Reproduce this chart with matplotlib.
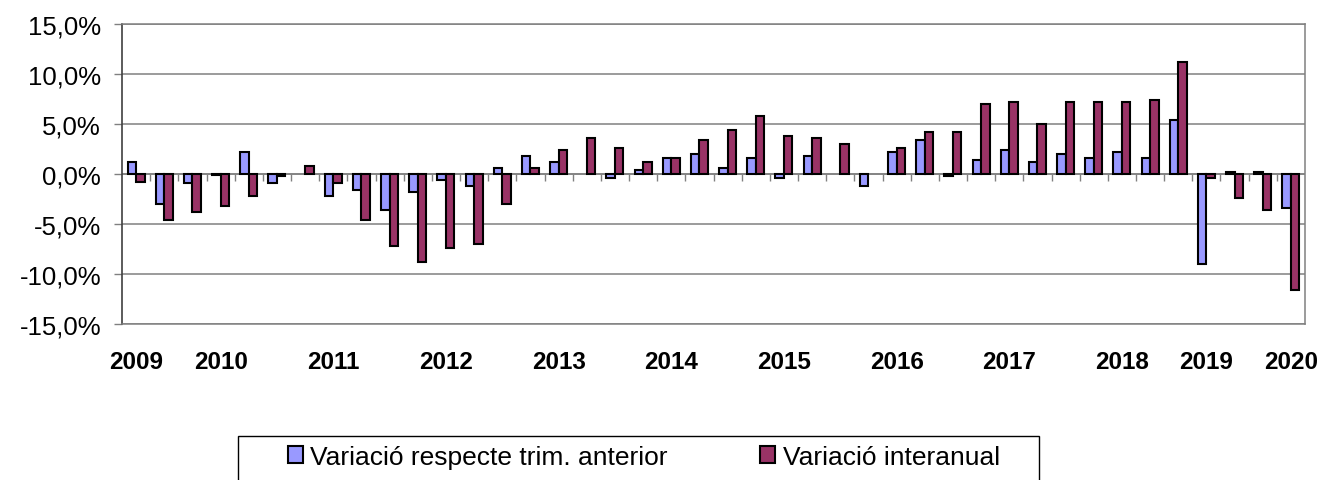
import numpy as np
import matplotlib
matplotlib.use("Agg")
import matplotlib.pyplot as plt
from matplotlib.patches import Rectangle
from matplotlib.ticker import FuncFormatter

# --------------------------------------------------
# data (quarterly, % change)
# --------------------------------------------------
trim_anterior = [
    1.2, -3.0, -0.9, -0.1, 2.2, -0.9, 0.0, -2.2, -1.6, -3.6,
    -1.8, -0.6, -1.2, 0.6, 1.8, 1.2, 0.0, -0.4, 0.4, 1.6,
    2.0, 0.6, 1.6, -0.4, 1.8, 0.0, -1.2, 2.2, 3.4, -0.2,
    1.4, 2.4, 1.2, 2.0, 1.6, 2.2, 1.6, 5.4, -9.0, 0.2,
    0.2, -3.4,
]
interanual = [
    -0.8, -4.6, -3.8, -3.2, -2.2, -0.2, 0.8, -0.9, -4.6, -7.2,
    -8.8, -7.4, -7.0, -3.0, 0.6, 2.4, 3.6, 2.6, 1.2, 1.6,
    3.4, 4.4, 5.8, 3.8, 3.6, 3.0, 0.0, 2.6, 4.2, 4.2,
    7.0, 7.2, 5.0, 7.2, 7.2, 7.2, 7.4, 11.2, -0.4, -2.4,
    -3.6, -11.6,
]
year_labels = ["2009", "2010", "2011", "2012", "2013", "2014",
               "2015", "2016", "2017", "2018", "2019", "2020"]
year_pos = [0, 3, 7, 11, 15, 19, 23, 27, 31, 35, 38, 41]

label_trim = "Variació respecte trim. anterior"
label_inter = "Variació interanual"

# --------------------------------------------------
# style
# --------------------------------------------------
plt.rcParams["font.family"] = ["Liberation Sans", "DejaVu Sans"]
c_blue = "#9999FF"
c_red = "#993366"
c_grid = "#808080"

n = len(trim_anterior)
x = np.arange(n)
w = 0.30

# zero values are not drawn in the original chart
blue = np.array(trim_anterior, dtype=float)
red = np.array(interanual, dtype=float)
blue[blue == 0] = np.nan
red[red == 0] = np.nan

# --------------------------------------------------
# figure
# --------------------------------------------------
fig = plt.figure(figsize=(13.22, 4.81), dpi=100)
ax = fig.add_axes([122 / 1322, 1 - 325 / 481, 1183 / 1322, 300 / 481])

ax.bar(x - w / 2, blue, w, color=c_blue, edgecolor="black", linewidth=1.5,
       label=label_trim, zorder=3)
ax.bar(x + w / 2, red, w, color=c_red, edgecolor="black", linewidth=1.5,
       label=label_inter, zorder=3)

ax.set_xlim(-0.5, n - 0.5)
ax.set_ylim(-15, 15)
ax.set_yticks(np.arange(-15, 16, 5))
ax.yaxis.set_major_formatter(
    FuncFormatter(lambda v, p: f"{v:.1f}%".replace(".", ","))
)
ax.grid(axis="y", color=c_grid, linewidth=1.1, zorder=0)
ax.axhline(0, color=c_grid, linewidth=1.1, zorder=1)

# small category ticks on the zero line
ax.vlines(np.arange(1, n) - 0.5, -0.7, 0, color=c_grid, linewidth=1.0,
          zorder=1)

ax.set_xticks(year_pos)
ax.set_xticklabels(year_labels, fontsize=17.5, fontweight="bold")
ax.tick_params(axis="x", length=0, pad=19)
ax.tick_params(axis="y", labelsize=18.5, length=6, width=1.0,
               color=c_grid, pad=9)

for side in ["top", "right", "bottom"]:
    ax.spines[side].set_color(c_grid)
    ax.spines[side].set_linewidth(1.1)
ax.spines["left"].set_color("#404040")
ax.spines["left"].set_linewidth(1.2)

# --------------------------------------------------
# legend (box runs off the bottom of the image)
# --------------------------------------------------
fig.patches.append(Rectangle(
    (238 / 1322, -0.2), (1039 - 238) / 1322, 0.2 + 1 - 437 / 481,
    transform=fig.transFigure, facecolor="white", edgecolor="black",
    linewidth=1.0, zorder=0
))
fig.legend(
    loc="center left",
    bbox_to_anchor=(288 / 1322, 1 - 458 / 481),
    ncol=2,
    frameon=False,
    fontsize=19,
    handlelength=0.55,
    handleheight=0.62,
    handletextpad=0.3,
    columnspacing=3.5,
    borderpad=0,
    borderaxespad=0,
)

fig.savefig("out.png", dpi=100)
